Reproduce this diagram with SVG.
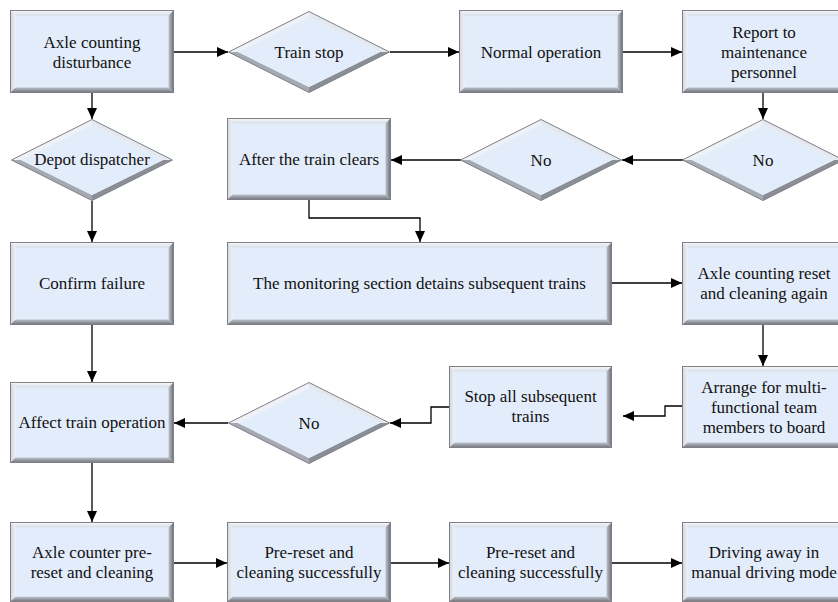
<svg xmlns="http://www.w3.org/2000/svg" xmlns:xlink="http://www.w3.org/1999/xlink" width="838" height="602" viewBox="0 0 838 602">
  <style>
    .face { fill: #E3ECFA; }
    .edge { fill: none; stroke: #7E7E84; stroke-width: 1; }
    .bt { fill: url(#gTop); }
    .bl { fill: url(#gLeft); }
    .br { fill: url(#gRight); }
    .bb { fill: url(#gBottom); }
    .label { font-size: 17px; fill: #111; text-anchor: middle; }
    .conn { fill: none; stroke: #000; stroke-width: 1.3; marker-end: url(#arrow); }
  </style>
  <defs>
    <linearGradient id="gTop" x1="0" y1="0" x2="0" y2="1">
      <stop offset="0" stop-color="#F7F8FB"/>
      <stop offset="1" stop-color="#D9DEE7"/>
    </linearGradient>
    <linearGradient id="gLeft" x1="0" y1="0" x2="1" y2="0">
      <stop offset="0" stop-color="#D2D6DD"/>
      <stop offset="1" stop-color="#EEF1F6"/>
    </linearGradient>
    <linearGradient id="gRight" x1="0" y1="0" x2="1" y2="0">
      <stop offset="0" stop-color="#BFC3CC"/>
      <stop offset="1" stop-color="#6C6F78"/>
    </linearGradient>
    <linearGradient id="gBottom" x1="0" y1="0" x2="0" y2="1">
      <stop offset="0" stop-color="#BDC1CA"/>
      <stop offset="1" stop-color="#72757D"/>
    </linearGradient>
    <marker id="arrow" markerUnits="userSpaceOnUse" markerWidth="11" markerHeight="10" refX="11" refY="5" orient="auto">
      <path d="M0,0 L11,5 L0,10 z" fill="#000"/>
    </marker>
    <!-- bevelled process box -->
    <symbol id="box" viewBox="0 0 164 82" preserveAspectRatio="none">
      <rect class="face" x="0.5" y="0.5" width="163" height="81"/>
      <polygon class="bt" points="0.5,0.5 163.5,0.5 158.5,5.5 5.5,5.5"/>
      <polygon class="bl" points="0.5,0.5 5.5,5.5 5.5,76.5 0.5,81.5"/>
      <polygon class="br" points="163.5,0.5 163.5,81.5 158.5,76.5 158.5,5.5"/>
      <polygon class="bb" points="0.5,81.5 163.5,81.5 158.5,76.5 5.5,76.5"/>
      <rect class="edge" x="0.5" y="0.5" width="163" height="81"/>
    </symbol>
    <!-- bevelled decision diamond -->
    <symbol id="diamond" viewBox="0 0 162 82" preserveAspectRatio="none">
      <polygon fill="#EEF1F6" points="0.5,41 81,0.5 81,6 10,41"/>
      <polygon fill="#E4E8EF" points="81,0.5 161.5,41 152,41 81,6"/>
      <polygon fill="#8A8E97" points="161.5,41 81,81.5 81,76 152,41"/>
      <polygon fill="#A5A9B2" points="81,81.5 0.5,41 10,41 81,76"/>
      <polygon class="face" points="81,6 152,41 81,76 10,41"/>
      <polygon class="edge" points="81,0.5 161.5,41 81,81.5 0.5,41"/>
    </symbol>
  </defs>

  <g id="connectors">
    <path class="conn" d="M174,52 H228"/>
    <path class="conn" d="M390,52 H459"/>
    <path class="conn" d="M623,52 H682"/>
    <path class="conn" d="M92,93 V119"/>
    <path class="conn" d="M763,93 V119"/>
    <path class="conn" d="M683,160 H622"/>
    <path class="conn" d="M461,160 H391"/>
    <path class="conn" d="M92,201 V242"/>
    <path class="conn" d="M309,200 V218 H420 V242"/>
    <path class="conn" d="M612,283 H682"/>
    <path class="conn" d="M763,325 V366"/>
    <path class="conn" d="M682,406 H665 V416 H623"/>
    <path class="conn" d="M449,407 H431 V423 H390"/>
    <path class="conn" d="M228,423 H174"/>
    <path class="conn" d="M92,325 V382"/>
    <path class="conn" d="M92,463 V522"/>
    <path class="conn" d="M174,563 H227"/>
    <path class="conn" d="M391,563 H449"/>
    <path class="conn" d="M612,563 H682"/>
  </g>

  <g id="nodes" font-family="'Liberation Serif', Tinos, 'DejaVu Serif', 'Times New Roman', serif">
  <g id="axle-disturbance">
    <use xlink:href="#box" x="10" y="10" width="164" height="83"/>
    <text class="label" x="92" y="48">Axle counting</text>
    <text class="label" x="92" y="68">disturbance</text>
  </g>
  <g id="train-stop">
    <use xlink:href="#diamond" x="228" y="11" width="162" height="82"/>
    <text class="label" x="309" y="58">Train stop</text>
  </g>
  <g id="normal-operation">
    <use xlink:href="#box" x="459" y="10" width="164" height="83"/>
    <text class="label" x="541" y="58">Normal operation</text>
  </g>
  <g id="report-maintenance">
    <use xlink:href="#box" x="682" y="10" width="164" height="83"/>
    <text class="label" x="764" y="38">Report to</text>
    <text class="label" x="764" y="58">maintenance</text>
    <text class="label" x="764" y="78">personnel</text>
  </g>

  <g id="depot-dispatcher">
    <use xlink:href="#diamond" x="11" y="119" width="162" height="82"/>
    <text class="label" x="92" y="165">Depot dispatcher</text>
  </g>
  <g id="after-train-clears">
    <use xlink:href="#box" x="227" y="118" width="164" height="82"/>
    <text class="label" x="309" y="165">After the train clears</text>
  </g>
  <g id="no-middle">
    <use xlink:href="#diamond" x="460" y="119" width="162" height="82"/>
    <text class="label" x="541" y="166">No</text>
  </g>
  <g id="no-right">
    <use xlink:href="#diamond" x="682" y="119" width="162" height="82"/>
    <text class="label" x="763" y="166">No</text>
  </g>

  <g id="confirm-failure">
    <use xlink:href="#box" x="10" y="242" width="164" height="83"/>
    <text class="label" x="92" y="289">Confirm failure</text>
  </g>
  <g id="monitoring-section">
    <rect class="face" x="227.5" y="242.5" width="384" height="82"/>
    <polygon class="bt" points="227.5,242.5 611.5,242.5 606.5,247.5 232.5,247.5"/>
    <polygon class="bl" points="227.5,242.5 232.5,247.5 232.5,319.5 227.5,324.5"/>
    <polygon class="br" points="611.5,242.5 611.5,324.5 606.5,319.5 606.5,247.5"/>
    <polygon class="bb" points="227.5,324.5 611.5,324.5 606.5,319.5 232.5,319.5"/>
    <rect class="edge" x="227.5" y="242.5" width="384" height="82"/>
    <text class="label" x="419.5" y="289">The monitoring section detains subsequent trains</text>
  </g>
  <g id="reset-again">
    <use xlink:href="#box" x="682" y="242" width="164" height="83"/>
    <text class="label" x="764" y="279">Axle counting reset</text>
    <text class="label" x="764" y="299">and cleaning again</text>
  </g>

  <g id="affect-operation">
    <use xlink:href="#box" x="10" y="382" width="164" height="81"/>
    <text class="label" x="92" y="428">Affect train operation</text>
  </g>
  <g id="no-bottom">
    <use xlink:href="#diamond" x="228" y="382" width="162" height="82"/>
    <text class="label" x="309" y="429">No</text>
  </g>
  <g id="stop-subsequent">
    <use xlink:href="#box" x="449" y="366" width="163" height="82"/>
    <text class="label" x="530.5" y="402">Stop all subsequent</text>
    <text class="label" x="530.5" y="422">trains</text>
  </g>
  <g id="team-board">
    <use xlink:href="#box" x="682" y="366" width="164" height="82"/>
    <text class="label" x="764" y="393">Arrange for multi-</text>
    <text class="label" x="764" y="413">functional team</text>
    <text class="label" x="764" y="433">members to board</text>
  </g>

  <g id="pre-reset">
    <use xlink:href="#box" x="10" y="522" width="164" height="80"/>
    <text class="label" x="92" y="558">Axle counter pre-</text>
    <text class="label" x="92" y="578">reset and cleaning</text>
  </g>
  <g id="pre-reset-ok-1">
    <use xlink:href="#box" x="227" y="522" width="164" height="80"/>
    <text class="label" x="309" y="558">Pre-reset and</text>
    <text class="label" x="309" y="578">cleaning successfully</text>
  </g>
  <g id="pre-reset-ok-2">
    <use xlink:href="#box" x="449" y="522" width="163" height="80"/>
    <text class="label" x="530.5" y="558">Pre-reset and</text>
    <text class="label" x="530.5" y="578">cleaning successfully</text>
  </g>
  <g id="manual-driving">
    <use xlink:href="#box" x="682" y="522" width="164" height="80"/>
    <text class="label" x="764" y="558">Driving away in</text>
    <text class="label" x="764" y="578">manual driving mode</text>
  </g>
  </g>
</svg>
